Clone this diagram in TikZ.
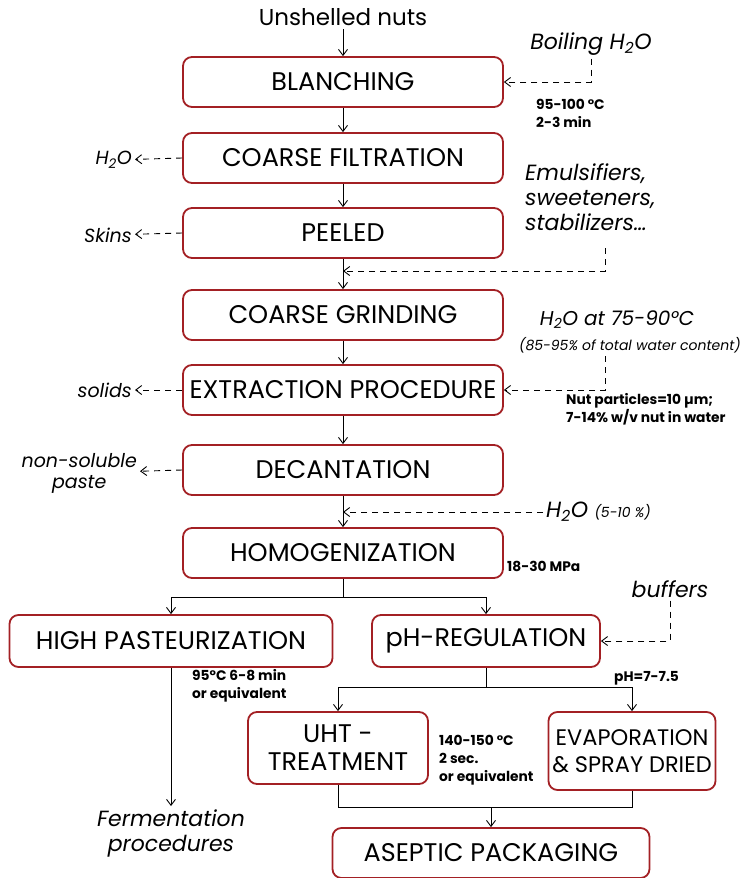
\documentclass[tikz,border=0pt]{standalone}
\usepackage{fontspec}
\setmainfont{Poppins}
\usetikzlibrary{arrows.meta}
\definecolor{nutred}{RGB}{163,32,36}

\begin{document}
\begin{tikzpicture}[x=1pt,y=-1pt,
  stepbox/.style={draw=nutred,line width=1.8pt,rounded corners=9pt,minimum height=50pt,
    minimum width=320pt,align=center,inner sep=1pt,font=\fontsize{25.5}{28}\selectfont},
  note/.style={font=\fontsize{22}{25}\selectfont\itshape,align=center,inner sep=3pt},
  sidenote/.style={note,font=\fontsize{19}{21}\selectfont\itshape,anchor=east},
  cond/.style={font=\fontsize{13.8}{18}\selectfont\bfseries,align=left,anchor=north west,inner sep=0pt},
  flow/.style={-{Straight Barb[length=6pt,width=9pt]},line width=0.9pt},
  feed/.style={flow,dash pattern=on 6pt off 5pt}]
  \useasboundingbox (0,0) rectangle (753,878);
  % main line
  \node[font=\fontsize{23}{25}\selectfont] (nuts) at (343,17) {Unshelled nuts};
  \node[stepbox] (blanch) at (343,82) {BLANCHING};
  \node[stepbox] (filt) at (343,158) {COARSE FILTRATION};
  \node[stepbox] (peel) at (343,233) {PEELED};
  \node[stepbox] (grind) at (343,315) {COARSE GRINDING};
  \node[stepbox] (extr) at (343,390) {EXTRACTION PROCEDURE};
  \node[stepbox] (decant) at (343,470) {DECANTATION};
  \node[stepbox] (homog) at (343,553) {HOMOGENIZATION};
  \node[stepbox,minimum width=323pt,minimum height=52pt] (past) at (171,641) {HIGH PASTEURIZATION};
  \node[stepbox,minimum width=228pt,minimum height=52pt] (ph) at (486,641) {pH-REGULATION};
  \node[stepbox,minimum width=180pt,minimum height=72pt] (uht) at (338,748) {UHT -\\TREATMENT};
  \node[stepbox,minimum width=167pt,minimum height=78pt,font=\fontsize{22.5}{27}\selectfont] (evap) at (632,751) {EVAPORATION\\\& SPRAY DRIED};
  \node[stepbox,minimum width=317pt] (asep) at (491,853) {ASEPTIC PACKAGING};
  \node[note] (ferm) at (171,833) {Fermentation\\procedures};

  % inputs and outputs
  \node[note] (boil) at (591,44) {Boiling H\textsubscript{2}O};
  \node[sidenote] (outwat) at (135,160) {H\textsubscript{2}O};
  \node[sidenote] (outskin) at (135,235) {Skins};
  \node[note,anchor=north west,align=left] (additive) at (522,160) {Emulsifiers,\\sweeteners,\\stabilizers\dots};
  \node[note,font=\fontsize{20}{22}\selectfont\itshape] (hotwat) at (617,320) {H\textsubscript{2}O at 75-90°C};
  \node[font=\fontsize{14}{16}\selectfont\itshape] (hotwatc) at (630,345) {(85-95\% of total water content)};
  \node[sidenote] (outsol) at (135,390) {solids};
  \node[sidenote,align=center] (outpaste) at (140,473) {non-soluble\\paste};
  \node[note,anchor=west] (coldwat) at (543,512) {H\textsubscript{2}O {\fontsize{14}{16}\selectfont(5-10 \%)}};
  \node[note] (buffers) at (670,589) {buffers};
  \coordinate (addin) at (605,248);
  \coordinate (mixA) at (343,271);
  \coordinate (hotin) at (605,356);
  \coordinate (mixB) at (343,512);

  % process conditions
  \node[cond] (blanchc) at (536,99) {95-100 °C\\2-3 min};
  \node[cond] (extrc) at (566,393) {Nut particles=10 µm;\\7-14\% w/v nut in water};
  \node[cond] (homogc) at (507,561) {18-30 MPa};
  \node[cond] (pastc) at (192,669) {95°C 6-8 min\\or equivalent};
  \node[cond] (phc) at (614,671) {pH=7-7.5};
  \node[cond] (uhtc) at (439,735) {140-150 °C\\2 sec.\\or equivalent};

  \draw[flow] (nuts) -- (blanch);
  \draw[flow] (blanch) -- (filt);
  \draw[flow] (filt) -- (peel);
  \draw[flow] (peel) -- (grind);
  \draw[flow] (grind) -- (extr);
  \draw[flow] (extr) -- (decant);
  \draw[flow] (decant) -- (homog);
  \draw[line width=0.9pt] (homog.south) -- ++(0,19) coordinate (splitA);
  \draw[flow] (splitA) -| (past.north);
  \draw[flow] (splitA) -| (ph.north);
  \draw[flow] (past) -- (ferm);
  \draw[line width=0.9pt] (ph.south) -- ++(0,20) coordinate (splitB);
  \draw[flow] (splitB) -| (uht.north);
  \draw[flow] (splitB) -| (evap.north);
  \coordinate (joinC) at (491,807);
  \draw[line width=0.9pt] (uht.south) |- (joinC) -| (evap.south);
  \draw[flow] (joinC) -- (asep);

  \draw[feed] (boil.south) |- (blanch.east);
  \draw[feed] (filt.west) -- (outwat);
  \draw[feed] (peel.west) -- (outskin);
  \draw[feed] (addin) |- (mixA);
  \draw[feed] (hotin) |- (extr.east);
  \draw[feed] (extr.west) -- (outsol);
  \draw[feed] (decant.west) -- (outpaste);
  \draw[feed] (coldwat.west) -- (mixB);
  \draw[feed] (buffers.south) |- (ph.east);
\end{tikzpicture}
\end{document}
